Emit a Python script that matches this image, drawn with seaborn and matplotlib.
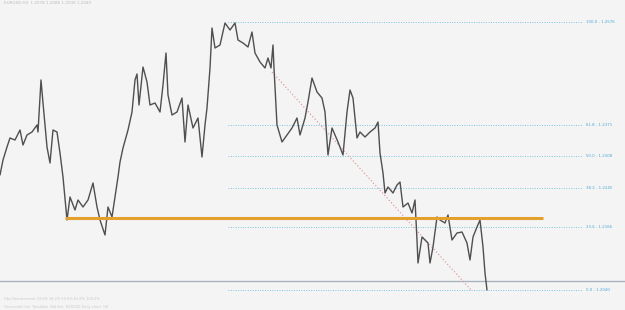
import matplotlib
matplotlib.use("Agg")
import matplotlib.pyplot as plt
import seaborn as sns
import pandas as pd

# Bar index and close price
bars = [0, 3, 7, 10, 15, 20, 23, 27, 32, 37,
        38, 41, 43, 47, 50, 53, 57, 60, 63, 67,
        70, 75, 78, 83, 88, 93, 97, 100, 105, 108,
        112, 115, 118, 120, 123, 128, 132, 135, 137, 139,
        143, 147, 150, 155, 160, 163, 166, 168, 172, 177,
        182, 185, 188, 193, 198, 202, 205, 207, 210, 212,
        215, 220, 225, 230, 235, 238, 243, 248, 252, 255,
        260, 265, 268, 271, 273, 274, 277, 282, 287, 292,
        297, 300, 305, 308, 312, 317, 322, 325, 328, 332,
        335, 338, 343, 347, 350, 353, 357, 360, 365, 370,
        375, 378, 380, 383, 385, 388, 393, 397, 400, 403,
        408, 412, 415, 417, 418, 422, 425, 428, 430, 433,
        437, 440, 445, 448, 452, 457, 462, 467, 470, 473,
        477, 480, 483, 485, 487]
prices = [1.2270, 1.2300, 1.2326, 1.2344, 1.2340, 1.2360, 1.2330, 1.2350, 1.2356, 1.2370,
          1.2356, 1.2460, 1.2414, 1.2326, 1.2294, 1.2360, 1.2356, 1.2314, 1.2266, 1.2180,
          1.2226, 1.2200, 1.2220, 1.2206, 1.2220, 1.2254, 1.2206, 1.2180, 1.2150, 1.2206,
          1.2186, 1.2226, 1.2266, 1.2296, 1.2324, 1.2360, 1.2396, 1.2460, 1.2472, 1.2410,
          1.2486, 1.2456, 1.2410, 1.2414, 1.2396, 1.2450, 1.2514, 1.2430, 1.2390, 1.2396,
          1.2424, 1.2336, 1.2410, 1.2364, 1.2384, 1.2306, 1.2370, 1.2404, 1.2484, 1.2564,
          1.2524, 1.2530, 1.2574, 1.2560, 1.2574, 1.2540, 1.2534, 1.2526, 1.2556, 1.2514,
          1.2496, 1.2484, 1.2504, 1.2484, 1.2530, 1.2484, 1.2370, 1.2336, 1.2350, 1.2364,
          1.2384, 1.2350, 1.2384, 1.2416, 1.2464, 1.2436, 1.2424, 1.2396, 1.2310, 1.2364,
          1.2350, 1.2336, 1.2310, 1.2396, 1.2440, 1.2424, 1.2344, 1.2356, 1.2346, 1.2356,
          1.2364, 1.2376, 1.2314, 1.2274, 1.2234, 1.2246, 1.2234, 1.2250, 1.2256, 1.2206,
          1.2214, 1.2194, 1.2220, 1.2140, 1.2094, 1.2146, 1.2140, 1.2134, 1.2094, 1.2126,
          1.2186, 1.2180, 1.2174, 1.2190, 1.2140, 1.2154, 1.2156, 1.2134, 1.2100, 1.2146,
          1.2166, 1.2180, 1.2126, 1.2074, 1.2040]

fib_levels = ["100.0", "61.8", "50.0", "38.2", "23.6", "0.0"]
fib_prices = [1.2576, 1.2371, 1.2308, 1.2245, 1.2166, 1.2040]

support_price = 1.2184
support_bars = [65, 543]
bid_price = 1.2058
trend_bars = [272, 472]
trend_prices = [1.2476, 1.2038]

bg = "#f4f4f4"
sns.set_theme(style="white")
fig = plt.figure(figsize=(6.25, 3.1), dpi=100, facecolor=bg)
ax = fig.add_axes([0, 0, 1, 1])
ax.set_facecolor(bg)

df = pd.DataFrame({"bar": bars, "price": prices})

# Fibonacci levels
for lvl, p in zip(fib_levels, fib_prices):
    ax.plot([228, 582], [p, p], color="#7cc3e2", lw=0.7, ls=(0, (1, 1.5)), zorder=1)
    ax.text(586, p, f"{lvl} - {p:.4f}", fontsize=2.8, color="#4aa8d8",
            va="center", ha="left")

# bid line
ax.axhline(bid_price, color="#a9b2bf", lw=1.0, zorder=1)

# trend line
ax.plot(trend_bars, trend_prices, color="#e08a8a", lw=0.8, ls=(0, (1, 2)), zorder=1)

# price line
sns.lineplot(data=df, x="bar", y="price", ax=ax, color="#4f4f4f", lw=1.0,
             zorder=3, legend=False)

# support line
ax.plot(support_bars, [support_price, support_price], color="#e4a02c", lw=2.2,
        zorder=4, solid_capstyle="butt")

ax.text(4, 1.2613, "EURUSD,H4  1.2078 1.2086 1.2036 1.2040", fontsize=3,
        color="#bdbdbd", va="center")
ax.text(4, 1.2021, "Fibo Retracement 23.6% 38.2% 50.0% 61.8% 100.0%", fontsize=2.5,
        color="#c8c8c8", va="center")
ax.text(4, 1.2006, "Horizontal line  Trendline  Bid line  EURUSD Daily chart  H4", fontsize=2.5,
        color="#c8c8c8", va="center")

ax.set_xlim(0, 625)
ax.set_ylim(1.2000, 1.2620)
ax.set_xlabel("")
ax.set_ylabel("")
ax.set_xticks([])
ax.set_yticks([])
for s in ax.spines.values():
    s.set_visible(False)

fig.savefig("out.png", dpi=100, facecolor=bg)
